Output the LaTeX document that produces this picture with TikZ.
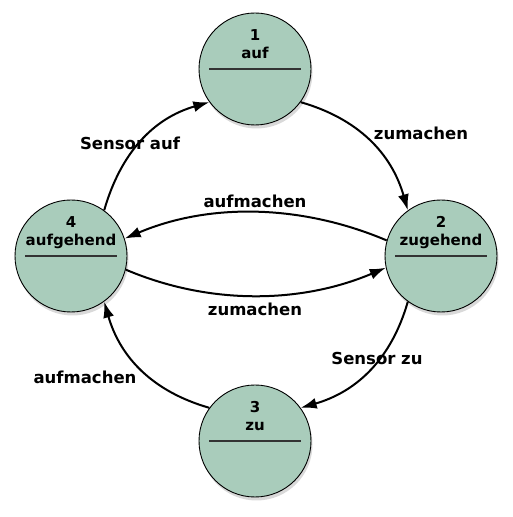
\documentclass[tikz,border=0pt]{standalone}
\usepackage{fontspec}
\setmainfont{DejaVu Sans}
\usepackage{tikz}
\usetikzlibrary{arrows.meta}
\usetikzlibrary{shadows}

\definecolor{zgruen}{RGB}{169,204,187}
\pgfdeclareradialshading{zustandfarbe}{\pgfpoint{0bp}{0bp}}{color(0bp)=(zgruen); color(38bp)=(zgruen); color(50bp)=(zgruen!80!black)}

\tikzset{
    zustand/.style={circle, draw, line width=0.9pt, minimum size=112pt, inner sep=0pt,
        shading=zustandfarbe, drop shadow={shadow xshift=1.5pt, shadow yshift=-3.5pt, opacity=0.3}},
    trenner/.style={line width=1.1pt, draw={black!80}},
    ztext/.style={anchor=base, font=\fontsize{15}{18}\selectfont\bfseries},
    kante/.style={line width=2pt, -{Latex[length=16pt,width=11pt]}},
    ktext/.style={font=\fontsize{16.5}{19}\selectfont\bfseries}
}

\begin{document}
\begin{tikzpicture}[x=1pt, y=1pt]
        \useasboundingbox (0,0) rectangle (512,517);

        % Zustand 1 auf
        \begin{scope}[shift={(255,448)}]
            \node[zustand] (s1) at (0,0) {};
            \draw[trenner] (-46,0) -- (46,0);
            \node[ztext] (n1) at (0,28) {1};
            \node[ztext] (t1) at (0,10) {auf};
        \end{scope}

        % Zustand 2 zugehend
        \begin{scope}[shift={(441,261)}]
            \node[zustand] (s2) at (0,0) {};
            \draw[trenner] (-46,0) -- (46,0);
            \node[ztext] (n2) at (0,28) {2};
            \node[ztext] (t2) at (0,10) {zugehend};
        \end{scope}

        % Zustand 3 zu
        \begin{scope}[shift={(255,76)}]
            \node[zustand] (s3) at (0,0) {};
            \draw[trenner] (-46,0) -- (46,0);
            \node[ztext] (n3) at (0,28) {3};
            \node[ztext] (t3) at (0,10) {zu};
        \end{scope}

        % Zustand 4 aufgehend
        \begin{scope}[shift={(71,261)}]
            \node[zustand] (s4) at (0,0) {};
            \draw[trenner] (-46,0) -- (46,0);
            \node[ztext] (n4) at (0,28) {4};
            \node[ztext] (t4) at (0,10) {aufgehend};
        \end{scope}

        % aeussere Kanten (im Uhrzeigersinn)
        \draw[kante] (s4.54) to[out=74, in=196] (s1.216);
        \draw[kante] (s1.-36) to[out=-16, in=106] (s2.126);
        \draw[kante] (s2.234) to[out=254, in=16] (s3.36);
        \draw[kante] (s3.144) to[out=164, in=286] (s4.306);

        % innere Kanten
        \draw[kante] (s2.164) to[out=157, in=23, looseness=0.9] (s4.18);
        \draw[kante] (s4.-14) to[out=-23, in=203, looseness=0.9] (s2.192);

        % Beschriftungen
        \node[ktext] (l1) at (130,374) {Sensor auf};
        \node[ktext] (l2) at (421,384) {zumachen};
        \node[ktext] (l3) at (255,316) {aufmachen};
        \node[ktext] (l4) at (255,208) {zumachen};
        \node[ktext] (l5) at (377,159) {Sensor zu};
        \node[ktext] (l6) at (85,140) {aufmachen};
    \end{tikzpicture}
\end{document}
